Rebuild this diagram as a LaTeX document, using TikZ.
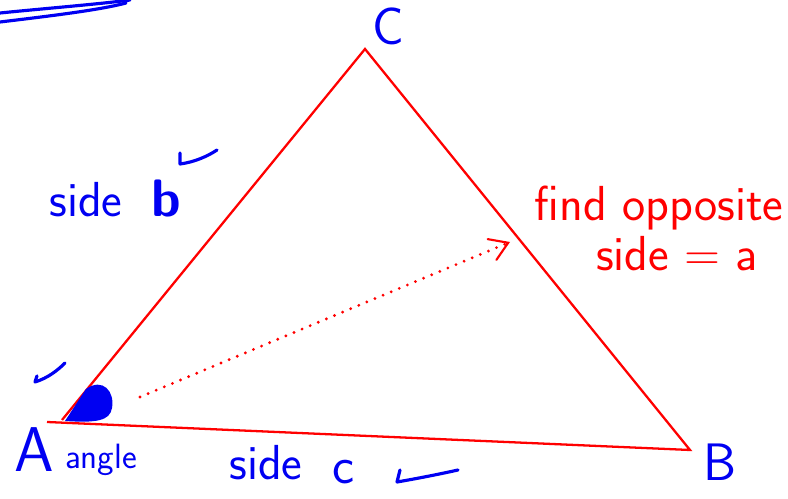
\documentclass[tikz,border=0pt]{standalone}
\usepackage{tikz}
\usetikzlibrary{arrows.meta}
\definecolor{penred}{rgb}{1.0,0.0,0.0}
\definecolor{penblue}{rgb}{0.0,0.0,0.95}

\begin{document}
\begin{tikzpicture}[x=0.02cm, y=-0.02cm,
        edge/.style={penred, line width=1.3pt},
        ink/.style={penblue, line width=1.8pt, line cap=round, line join=round},
        bluetext/.style={penblue, font=\sffamily\fontsize{28}{30}\selectfont},
        redtext/.style={penred, font=\sffamily\fontsize{28}{30}\selectfont}]
                \useasboundingbox (0,0) rectangle (788,499);

                % 1. Corners and sides of the triangle
                \coordinate (A) at (62,420);
                \coordinate (C) at (365,49);
                \coordinate (B) at (690,450);
                \coordinate (foot) at (47,422);
                \draw[edge] (A) -- (C) -- (B) -- (foot);

                % 2. The marked angle at A
                \fill[penblue] (65,421) -- (86,389) .. controls (103,377) and (115,392) .. (112,408)
                    .. controls (110,421) and (96,423) .. (65,421) -- cycle;

                % 3. Dotted arrow over to side a
                \coordinate (tail) at (140,397);
                \coordinate (head) at (510,242);
                \draw[penred, line width=1.8pt, line cap=round, dash pattern=on 0pt off 5pt,
                    -{Straight Barb[length=3.5mm, width=4.5mm, line cap=round, line width=1.2pt]}] (tail) -- (head);

                % 4. Scribble at the top left
                \draw[ink] (0,13) .. controls (50,8) and (100,4) .. (130,0);
                \draw[ink] (0,22) .. controls (50,16) and (100,10) .. (126,3);

                % 5. Ticks
                \draw[ink] (37,376) -- (35,382) .. controls (48,378) and (58,370) .. (65,363);
                \draw[ink] (180,153) -- (180,164) .. controls (195,162) and (208,156) .. (217,150);
                \draw[ink] (400,470) -- (397,482) .. controls (420,478) and (440,474) .. (458,470);

                % 6. Labels
                \node[bluetext, font=\sffamily\fontsize{30}{32}\selectfont] (labC) at (388,26) {C};
                \node[bluetext] (sideb) at (86,200) {side};
                \node[bluetext, font=\sffamily\bfseries\fontsize{30}{32}\selectfont] (letb) at (166,199) {b};
                \node[bluetext, font=\sffamily\fontsize{36}{38}\selectfont] (labA) at (34,450) {A};
                \node[bluetext, font=\sffamily\fontsize{20}{22}\selectfont] (angle) at (101,460) {angle};
                \node[bluetext] (sidec) at (266,463) {side};
                \node[bluetext, font=\sffamily\fontsize{30}{32}\selectfont] (letc) at (344,472) {c};
                \node[bluetext, font=\sffamily\fontsize{30}{32}\selectfont] (labB) at (720,462) {B};
                \node[redtext] (find) at (659,208) {find opposite};
                \node[redtext] (sidea) at (677,254) {side = a};
            \end{tikzpicture}
\end{document}
